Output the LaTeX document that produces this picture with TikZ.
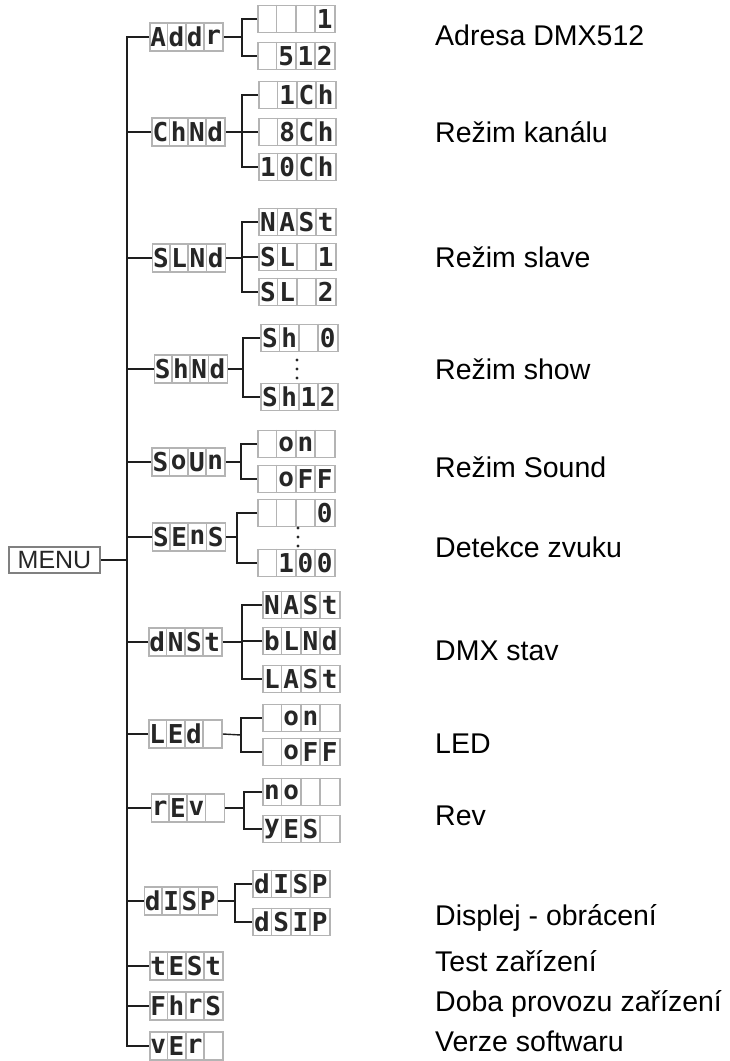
\documentclass[tikz,border=0pt]{standalone}
\usepackage{fontspec}
\setmainfont{Liberation Sans}
\newfontfamily\segfont{DejaVu Sans Mono}
\definecolor{linec}{HTML}{1E1E1E}
\definecolor{cellc}{HTML}{B4B4B4}
\definecolor{segc}{HTML}{262626}
\tikzset{
 conn/.style={draw=linec, line width=1.4pt},
 heavy/.style={draw=linec, line width=2.6pt},
 frame/.style={draw=cellc, line width=1.6pt, fill=white, inner sep=0pt, rectangle},
 cellline/.style={draw=cellc, line width=1.6pt},
 segchar/.style={font=\segfont\bfseries\fontsize{26}{26}\selectfont, text=segc, inner sep=0pt, anchor=center},
 lbl/.style={font=\fontsize{28.5}{32}\selectfont, anchor=mid west, inner sep=0pt, text=black},
 menubox/.style={draw=gray, line width=1.2pt, inner sep=0pt, minimum width=91, minimum height=26, font=\fontsize{25}{25}\selectfont, text=segc},
}
\newcommand\dbox[8]{%
 \node[frame, minimum width=4*#3, minimum height=#4] (#1) at (#2) {};
 \foreach \k in {1,2,3}{\draw[cellline] ([xshift=\k*#3]#1.north west) -- ([xshift=\k*#3]#1.south west);}
 \node[segchar] at ([xshift=0.5*#3]#1.west) {#5};
 \node[segchar] at ([xshift=1.5*#3]#1.west) {#6};
 \node[segchar] at ([xshift=2.5*#3]#1.west) {#7};
 \node[segchar] at ([xshift=3.5*#3]#1.west) {#8};
}
\newcommand\lone[6]{\dbox{#1}{#2}{18.25}{28}{#3}{#4}{#5}{#6}}
\newcommand\ltwo[6]{\dbox{#1}{#2}{19.25}{27}{#3}{#4}{#5}{#6}}
\begin{document}
\begin{tikzpicture}[x=1pt,y=-1pt]
\useasboundingbox (0,0) rectangle (730,1061);
% MENU
\node[menubox] (menu) at (54.5,560) {MENU};
% level 1
\lone{Addr}{186.5,37}{A}{d}{d}{r}
\lone{ChNd}{188.5,132}{C}{h}{N}{d}
\lone{SLNd}{189,258}{S}{L}{N}{d}
\lone{ShNd}{191,369}{S}{h}{N}{d}
\lone{SoUn}{188.5,462}{S}{o}{U}{n}
\lone{SEnS}{189,537}{S}{E}{n}{S}
\lone{dNSt}{185.5,642}{d}{N}{S}{t}
\lone{LEd}{185.5,734}{L}{E}{d}{}
\lone{rEv}{188,808}{r}{E}{v}{}
\lone{dISP}{181,901}{d}{I}{S}{P}
\lone{tESt}{186.5,966}{t}{E}{S}{t}
\lone{FhrS}{186.5,1006}{F}{h}{r}{S}
\lone{vEr}{186.5,1046}{v}{E}{r}{}
% level 2 (left edge + 38.5 = centre)
\ltwo{Addr1}{296.5,19}{}{}{}{1}
\ltwo{Addr2}{296.5,56}{}{5}{1}{2}
\ltwo{Ch1}{297.5,95}{}{1}{C}{h}
\ltwo{Ch2}{297.5,132}{}{8}{C}{h}
\ltwo{Ch3}{297.5,167}{1}{0}{C}{h}
\ltwo{SL1}{297.5,222}{N}{A}{S}{t}
\ltwo{SL2}{297.5,257}{S}{L}{}{1}
\ltwo{SL3}{297.5,292}{S}{L}{}{2}
\ltwo{Sh1}{299.5,338}{S}{h}{}{0}
\ltwo{Sh2}{299.5,397}{S}{h}{1}{2}
\ltwo{So1}{296.5,444}{}{o}{n}{}
\ltwo{So2}{296.5,479}{}{o}{F}{F}
\ltwo{Se1}{296.5,513}{}{}{}{0}
\ltwo{Se2}{296.5,563}{}{1}{0}{0}
\ltwo{dN1}{301.5,605}{N}{A}{S}{t}
\ltwo{dN2}{301.5,641}{b}{L}{N}{d}
\ltwo{dN3}{301.5,679}{L}{A}{S}{t}
\ltwo{LE1}{301.5,718}{}{o}{n}{}
\ltwo{LE2}{301.5,752}{}{o}{F}{F}
\ltwo{rE1}{301.5,792}{n}{o}{}{}
\ltwo{rE2}{301.5,829}{y}{E}{S}{}
\ltwo{dI1}{291.5,884}{d}{I}{S}{P}
\ltwo{dI2}{291.5,922}{d}{S}{I}{P}
% dots
\foreach \yy in {360,369,378} \fill[segc] (297,\yy) circle (1.6);
\foreach \yy in {528,537,546} \fill[segc] (298,\yy) circle (1.6);
% trunk
\coordinate (tr) at (127,560);
\draw[conn] (menu.east) -- (tr);
\draw[conn] (Addr.west) -| (tr);
\draw[conn] (tr) |- (vEr.west);
\foreach \n in {ChNd,SLNd,SoUn,dNSt,rEv,dISP,FhrS} \draw[conn] (\n.west) -- (\n.west -| tr);
\foreach \n in {ShNd,SEnS,LEd,tESt} \draw[heavy] (\n.west) -- (\n.west -| tr);
% brackets
\coordinate (bA) at (242,37);
\draw[conn] (Addr.east) -- (bA);
\draw[heavy] (Addr1.west) -| (bA) |- (Addr2.west);
\coordinate (bC) at (242,132);
\draw[conn] (ChNd.east) -- (bC);
\draw[conn] (Ch1.west) -| (bC) |- (Ch3.west);
\draw[conn] (Ch2.west) -- (Ch2.west -| bC);
\coordinate (bS) at (242,258);
\draw[heavy] (SLNd.east) -- (bS);
\draw[conn] (SL1.west) -| (bS) |- (SL3.west);
\draw[heavy] (SL2.west) -- (SL2.west -| bS);
\coordinate (bSh) at (243,369);
\draw[conn] (ShNd.east) -- (bSh);
\draw[conn] (Sh1.west) -| (bSh) |- (Sh2.west);
\coordinate (bSo) at (241,462);
\draw[heavy] (SoUn.east) -- (bSo);
\draw[conn] (So1.west) -| (bSo) |- (So2.west);
\coordinate (bSe) at (237,537);
\draw[conn] (SEnS.east) -- (bSe);
\draw[heavy] (Se1.west) -| (bSe) |- (Se2.west);
\coordinate (bdN) at (242,642);
\draw[conn] (dNSt.east) -- (bdN);
\draw[heavy] (dN1.west) -| (bdN) |- (dN3.west);
\draw[conn] (dN2.west) -- (dN2.west -| bdN);
\coordinate (bLE) at (241,735);
\draw[conn] (LEd.east) -- (bLE);
\draw[conn] (LE1.west) -| (bLE) |- (LE2.west);
\coordinate (brE) at (244,808);
\draw[heavy] (rEv.east) -- (brE);
\draw[heavy] (rE1.west) -| (brE) |- (rE2.west);
\coordinate (bdI) at (235,901);
\draw[heavy] (dISP.east) -- (bdI);
\draw[heavy] (dI1.west) -| (bdI) |- (dI2.west);
% labels
\node[lbl] (t1) at (435,43) {Adresa DMX512};
\node[lbl] (t2) at (435,140) {Režim kanálu};
\node[lbl] (t3) at (435,265) {Režim slave};
\node[lbl] (t4) at (435,377) {Režim show};
\node[lbl] (t5) at (435,475) {Režim Sound};
\node[lbl] (t6) at (435,555) {Detekce zvuku};
\node[lbl] (t7) at (435,658) {DMX stav};
\node[lbl] (t8) at (435,751) {LED};
\node[lbl] (t9) at (435,823) {Rev};
\node[lbl] (t10) at (435,923) {Displej - obrácení};
\node[lbl] (t11) at (435,969) {Test zařízení};
\node[lbl] (t12) at (435,1009) {Doba provozu zařízení};
\node[lbl] (t13) at (435,1049) {Verze softwaru};
\end{tikzpicture}
\end{document}
